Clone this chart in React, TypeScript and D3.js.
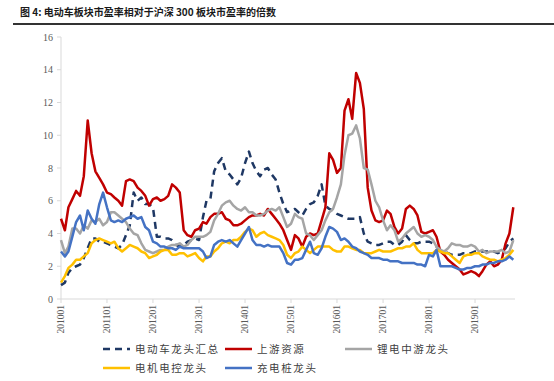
import React from "react";
import * as d3 from "d3";

const title = "图 4: 电动车板块市盈率相对于沪深 300 板块市盈率的倍数";
const xTickLabels = ["201001", "201101", "201201", "201301", "201401", "201501", "201601", "201701", "201801", "201901"];
const yTicks = [0, 2, 4, 6, 8, 10, 12, 14, 16];
const seriesNames = ["电动车龙头汇总", "上游资源", "锂电中游龙头", "电机电控龙头", "充电桩龙头"];

// monthly values starting Jan 2010
const evLeaders = [
  0.85, 1.0, 1.6, 1.9, 2.0, 2.1, 2.5, 3.1, 3.7, 3.7, 3.5, 3.5,
  3.4, 3.3, 3.2, 3.1, 3.3, 3.9, 4.5, 6.5, 6.0, 6.2, 5.8, 5.8,
  5.6, 3.8, 3.8, 3.7, 3.7, 3.6, 3.3, 3.2, 3.3, 3.5, 3.6, 3.7,
  3.6, 5.0, 6.0, 6.1, 7.8, 8.3, 8.6, 7.8, 7.6, 7.3, 7.0, 7.4,
  8.3, 9.0, 8.3, 7.8, 7.5, 7.9, 8.0, 7.6, 7.3, 6.5, 5.8, 5.3,
  5.4, 5.5, 5.3, 5.1, 5.5, 5.8, 5.9, 6.3, 7.0, 5.7, 5.5, 5.4,
  5.2, 5.1, 5.0, 4.9, 4.9, 4.9, 5.0, 4.0, 3.5, 3.4, 3.3, 3.3,
  3.4, 3.5, 3.5, 3.3, 3.3, 3.5, 3.9, 3.6, 3.4, 3.4, 3.5, 3.5,
  3.5, 3.4, 3.2, 3.0, 2.9, 2.8, 2.7, 2.7, 2.7, 2.8, 2.8, 2.8,
  2.9, 2.9, 2.9, 2.9, 2.9, 2.9, 2.8, 2.9, 3.1, 3.5, 3.7,
];
const upstream = [
  4.9, 4.2, 5.6, 6.1, 6.6, 6.3, 7.5, 10.9, 8.9, 7.8, 7.4, 7.0,
  6.5, 6.4, 6.2, 6.0, 5.7, 7.2, 7.3, 7.2, 6.8, 6.6, 6.3, 5.7,
  6.1, 6.2, 6.0, 6.1, 6.3, 7.0, 6.8, 6.5, 4.2, 3.9, 3.8, 4.2,
  4.3, 4.7, 4.6, 5.0, 5.2, 5.2, 5.3, 4.9, 4.8, 4.5, 4.5, 4.6,
  4.8, 5.0, 5.1, 5.1, 5.2, 5.1, 5.5, 5.2, 4.9, 4.6, 4.2, 3.6,
  3.0, 3.9, 3.7, 3.2, 3.8, 4.0, 3.9, 4.0, 4.8, 5.6, 8.9, 8.5,
  7.7, 8.0, 11.5, 12.2, 11.0, 13.8, 13.2, 11.6, 6.8, 5.4, 4.8, 4.7,
  4.8, 5.4, 5.2, 4.4, 4.0, 4.3, 5.5, 5.7, 5.5, 5.1, 4.1, 4.0,
  4.1, 4.2, 3.8, 2.9, 2.7, 2.4, 2.2, 2.0, 1.8, 1.5, 1.6, 1.7,
  1.6, 1.4, 1.7, 2.1, 2.3, 2.0, 2.1, 2.4, 3.4, 4.0, 5.6,
];
const midstream = [
  3.6, 2.8, 3.2, 4.3, 4.3, 4.0, 4.5, 4.3, 4.8, 4.7, 4.9, 4.5,
  4.7, 5.3, 5.3, 5.1, 4.9, 4.7, 4.3, 4.0, 3.9, 3.4, 3.0, 2.9,
  2.8, 2.9, 3.0, 3.0, 3.2, 3.3, 3.3, 3.4, 3.2, 3.3, 3.6, 3.8,
  3.8, 3.8, 3.9, 4.1, 4.8, 5.2, 5.7, 5.9, 6.0, 5.7, 5.5, 5.4,
  5.6, 5.3, 5.3, 5.1, 5.1, 5.2, 5.4, 5.5, 5.4, 5.6, 5.0, 4.4,
  4.6, 5.2, 5.0, 4.9, 4.0, 3.9, 3.6, 3.9, 4.2, 4.8, 5.3, 5.5,
  6.2, 7.0, 8.8, 10.0, 10.1, 10.6, 9.8, 8.0, 7.9, 7.0, 6.0, 5.6,
  4.8, 4.2, 4.5, 4.2, 3.5, 3.7, 4.0, 4.2, 4.4, 4.0, 3.8, 3.9,
  3.8, 3.6, 3.2, 3.0, 2.9, 3.1, 3.4, 3.3, 3.3, 3.2, 3.2, 3.3,
  3.2, 2.9, 3.0, 2.8, 2.9, 2.9, 2.9, 3.0, 2.8, 2.9, 3.6,
];
const motorCtrl = [
  1.0, 1.4, 1.9, 2.1, 2.4, 2.4, 2.6, 2.8, 3.4, 3.6, 3.7, 3.6,
  3.5, 3.4, 3.5, 3.1, 2.9, 3.1, 3.3, 3.2, 3.1, 2.9, 2.8, 2.5,
  2.6, 2.7, 2.9, 3.0, 3.0, 2.7, 2.7, 2.8, 2.8, 2.6, 2.7, 2.8,
  2.5, 2.3, 2.6, 2.6, 2.9, 3.1, 3.4, 3.5, 3.4, 3.6, 3.6, 3.8,
  4.1, 4.3, 4.2, 3.8, 4.0, 4.1, 3.9, 3.8, 3.7, 3.6, 3.3, 2.7,
  2.5, 2.8, 2.9, 3.2, 3.0, 2.8, 3.0, 3.2, 3.2, 3.2, 3.2, 3.0,
  2.9, 2.9, 3.2, 3.2, 3.1, 3.0, 3.0, 2.8, 2.8, 2.8, 2.9, 3.0,
  2.9, 2.9, 2.9, 3.0, 3.1, 3.1, 3.2, 3.2, 3.4, 3.0, 2.8, 2.8,
  2.8, 2.8, 3.0, 2.9, 2.8, 2.8, 2.6, 2.4, 2.2, 2.6, 2.7, 2.7,
  2.8, 2.8, 2.6, 2.5, 2.4, 2.4, 2.3, 2.4, 2.5, 2.7, 3.0,
];
const charging = [
  2.9, 2.6, 2.9, 3.8, 4.7, 5.1, 4.2, 5.4, 4.9, 4.6, 5.8, 6.5,
  5.6, 4.8, 4.7, 4.8, 4.7, 4.9, 5.0, 5.1, 4.9, 5.0, 4.4, 4.2,
  3.5, 3.4, 3.2, 3.2, 3.1, 3.1, 3.0, 3.2, 3.1, 3.1, 3.1, 3.1,
  3.1, 2.9, 2.5, 2.6, 3.3, 3.5, 3.6, 3.5, 3.6, 3.4, 3.2, 3.6,
  4.0, 4.4, 3.6, 3.3, 3.3, 3.2, 3.3, 3.2, 3.2, 3.2, 2.8, 2.2,
  2.1, 2.4, 2.4, 2.5, 3.0, 3.5, 2.8, 2.7, 3.1, 3.8, 4.4, 4.3,
  4.1, 3.6, 3.7, 3.5, 3.2, 3.1, 2.9, 2.8, 2.7, 2.5, 2.5, 2.5,
  2.4, 2.4, 2.3, 2.3, 2.3, 2.2, 2.2, 2.2, 2.2, 2.1, 2.1, 2.0,
  2.7, 2.6, 3.0, 2.0, 2.0, 2.0, 2.0, 1.9, 1.8, 1.8, 1.9, 1.9,
  2.0, 2.0, 2.1, 2.1, 2.2, 2.2, 2.3, 2.3, 2.4, 2.6, 2.4,
];

const colors = ["#1F3864", "#C00000", "#A5A5A5", "#FFC000", "#4472C4"];
const allSeries = [evLeaders, upstream, midstream, motorCtrl, charging];

const W = 554;
const H = 381;
const serif = "'Liberation Serif', 'Times New Roman', 'Noto Sans CJK SC', serif";
const cjk = "'Noto Sans CJK SC', 'Liberation Serif', serif";

export default function App() {
  const start = new Date(2010, 0, 1);
  const x = d3.scaleTime().domain([start, new Date(2020, 0, 1)]).range([61, 521]);
  const y = d3.scaleLinear().domain([0, 16]).range([299, 37]);
  const dateOf = (i: number) => d3.timeMonth.offset(start, i);
  const line = d3
    .line<number>()
    .x((_, i) => x(dateOf(i)))
    .y((v) => y(v));
  const tickDates = xTickLabels.map((_, i) => new Date(2010 + i, 0, 1));

  const legend = [
    { i: 0, lx: 103, ly: 349 },
    { i: 1, lx: 225, ly: 349 },
    { i: 2, lx: 345, ly: 349 },
    { i: 3, lx: 103, ly: 368 },
    { i: 4, lx: 225, ly: 368 },
  ];

  return (
    <svg
      width={W}
      height={H}
      style={{ position: "absolute", left: 0, top: 0, background: "#fff" }}
    >
      <text x={20} y={16} fontFamily={cjk} fontWeight="bold" fontSize={10} fill="#1a1a1a">
        {title}
      </text>
      <line x1={13} x2={554} y1={24} y2={24} stroke="#333" strokeWidth={2} />

      {/* y axis */}
      <line x1={61} x2={61} y1={y(16)} y2={y(0)} stroke="#D9D9D9" strokeWidth={1} />
      {yTicks.map((t) => (
        <g key={t}>
          <line x1={57} x2={61} y1={y(t)} y2={y(t)} stroke="#D9D9D9" />
          <text
            x={53}
            y={y(t)}
            dy="0.35em"
            textAnchor="end"
            fontFamily={serif}
            fontSize={10}
            fill="#595959"
          >
            {t}
          </text>
        </g>
      ))}

      {/* x axis */}
      <line x1={61} x2={515} y1={y(0)} y2={y(0)} stroke="#D9D9D9" strokeWidth={1} />
      {tickDates.map((d, i) => (
        <g key={i}>
          <line x1={x(d)} x2={x(d)} y1={y(0)} y2={y(0) + 4} stroke="#D9D9D9" />
          <text
            transform={`translate(${x(d)},${y(0) + 6}) rotate(-90)`}
            dy="0.35em"
            textAnchor="end"
            fontFamily={serif}
            fontSize={9.5}
            fill="#595959"
          >
            {xTickLabels[i]}
          </text>
        </g>
      ))}

      {/* series */}
      {allSeries.map((s, k) => (
        <path
          key={k}
          d={line(s) || ""}
          fill="none"
          stroke={colors[k]}
          strokeWidth={2.5}
          strokeLinejoin="round"
          strokeDasharray={k === 0 ? "7,5" : undefined}
        />
      ))}

      {/* legend */}
      {legend.map(({ i, lx, ly }) => (
        <g key={i}>
          <line
            x1={lx}
            x2={lx + 27}
            y1={ly}
            y2={ly}
            stroke={colors[i]}
            strokeWidth={2.5}
            strokeDasharray={i === 0 ? "7,5" : undefined}
          />
          <text
            x={lx + 32}
            y={ly}
            dy="0.36em"
            fontFamily={cjk}
            fontSize={10.5}
            letterSpacing={1.6}
            fill="#404040"
          >
            {seriesNames[i]}
          </text>
        </g>
      ))}
    </svg>
  );
}
